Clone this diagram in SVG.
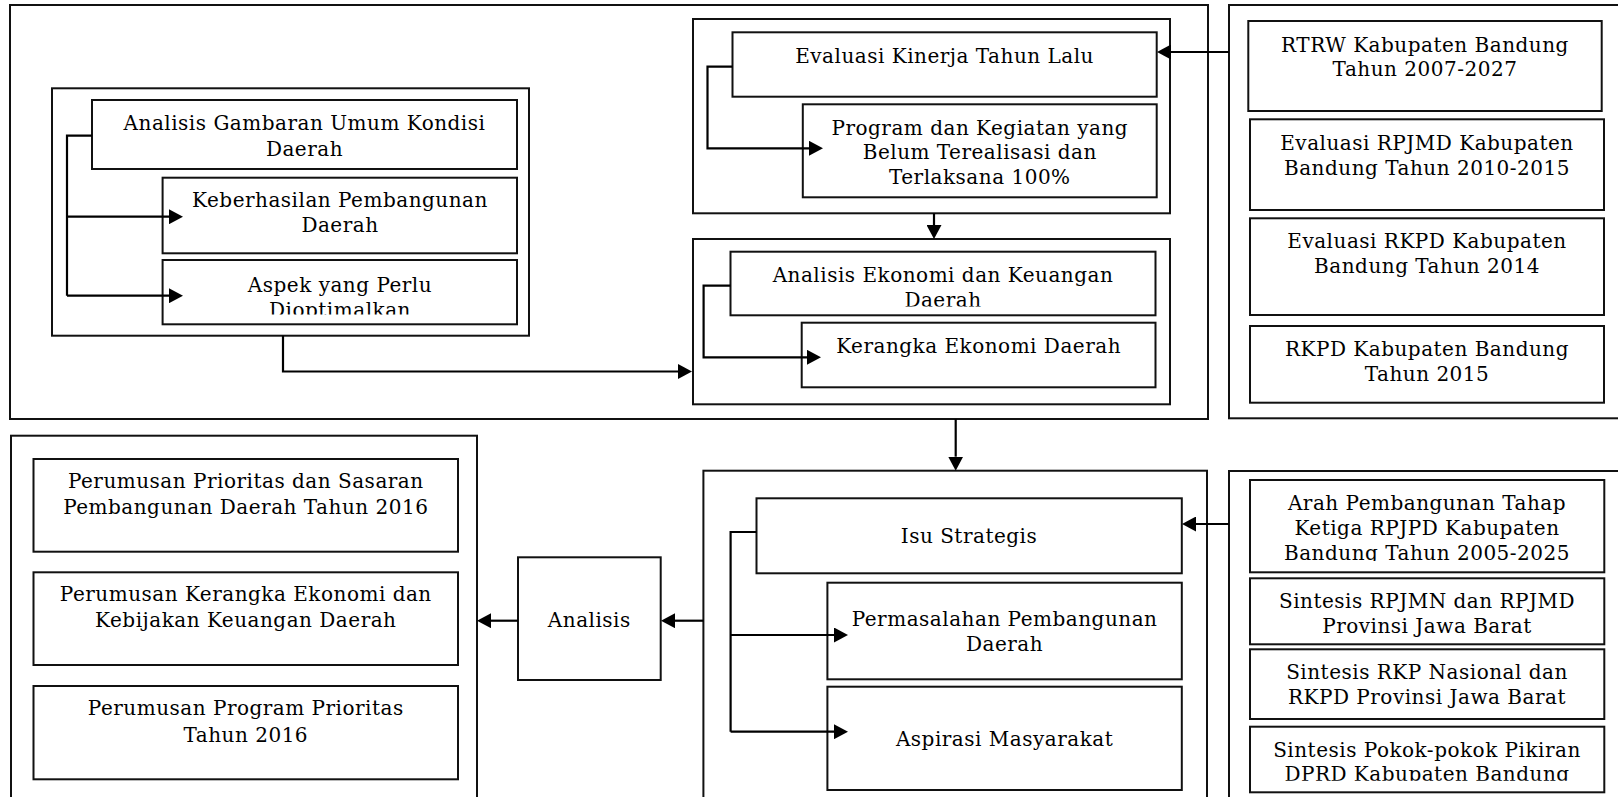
<svg xmlns="http://www.w3.org/2000/svg" width="1618" height="797" viewBox="0 0 1618 797">
<style>
rect.f{fill:#fff;stroke:#111;stroke-width:2}
rect.b{fill:#fff;stroke:#111;stroke-width:2}
.c path{fill:none;stroke:#000;stroke-width:2.2;marker-end:url(#ah)}
.c path.n{marker-end:none}
text{font-family:"DejaVu Serif","Liberation Serif",serif;font-size:20px;fill:#000;text-anchor:middle;letter-spacing:0.5px}
</style>
<defs>
<marker id="ah" markerUnits="userSpaceOnUse" markerWidth="14" markerHeight="15" refX="0" refY="7.5" orient="auto" viewBox="0 0 14 15"><path d="M0,0 L14,7.5 L0,15 z" fill="#000"/></marker>
<clipPath id="clA3"><rect x="162" y="260" width="356" height="54.5"/></clipPath>
<clipPath id="clK1"><rect x="730" y="251" width="426" height="55.5"/></clipPath>
<clipPath id="clB1"><rect x="1250" y="480" width="355" height="81"/></clipPath>
<clipPath id="clB4"><rect x="1250" y="726" width="355" height="54.8"/></clipPath>
</defs>
<rect width="1618" height="797" fill="#fff"/>

<g id="frame-top-left"><rect class="f" x="10" y="5" width="1198" height="414"/></g>
<g id="frame-top-right"><rect class="f" x="1229" y="5" width="400" height="413.3"/></g>
<g id="frame-bottom-left"><rect class="f" x="11" y="435.7" width="466" height="400"/></g>
<g id="frame-bottom-mid"><rect class="f" x="703.4" y="470.7" width="503.6" height="400"/></g>
<g id="frame-bottom-right"><rect class="f" x="1229" y="471" width="400" height="400"/></g>

<g id="frame-gambaran"><rect class="f" x="52" y="88.3" width="477" height="247.4"/></g>
<g id="frame-evaluasi"><rect class="f" x="693" y="19" width="477" height="194.3"/></g>
<g id="frame-ekonomi"><rect class="f" x="693" y="239" width="477" height="165.3"/></g>

<g id="n-gambaran"><rect class="b" x="92" y="100" width="425" height="69"/>
<text x="304.5" y="130">Analisis Gambaran Umum Kondisi</text><text x="304.5" y="155.5">Daerah</text></g>
<g id="n-keberhasilan"><rect class="b" x="162.6" y="177.7" width="354.4" height="75.6"/>
<text x="340" y="207.3">Keberhasilan Pembangunan</text><text x="340" y="232.3">Daerah</text></g>
<g id="n-aspek"><rect class="b" x="162.6" y="260" width="354.4" height="64.3"/>
<g clip-path="url(#clA3)"><text x="340" y="291.7">Aspek yang Perlu</text><text x="340" y="316.7">Dioptimalkan</text></g></g>

<g id="n-evaluasi-kinerja"><rect class="b" x="732.5" y="32.3" width="424.2" height="64.4"/>
<text x="944.6" y="62.7">Evaluasi Kinerja Tahun Lalu</text></g>
<g id="n-program"><rect class="b" x="802.8" y="104.3" width="353.9" height="93"/>
<text x="979.8" y="135">Program dan Kegiatan yang</text><text x="979.8" y="159.3">Belum Terealisasi dan</text><text x="979.8" y="183.5">Terlaksana 100%</text></g>

<g id="n-analisis-ekonomi"><rect class="b" x="730.5" y="251.7" width="425" height="63.6"/>
<g clip-path="url(#clK1)"><text x="943" y="281.7">Analisis Ekonomi dan Keuangan</text><text x="943" y="306.7">Daerah</text></g></g>
<g id="n-kerangka"><rect class="b" x="801.7" y="322.7" width="353.8" height="64.6"/>
<text x="978.6" y="353.3">Kerangka Ekonomi Daerah</text></g>

<g id="n-rtrw"><rect class="b" x="1248.3" y="21" width="353.4" height="90"/>
<text x="1425" y="51.7">RTRW Kabupaten Bandung</text><text x="1425" y="76.3">Tahun 2007-2027</text></g>
<g id="n-rpjmd"><rect class="b" x="1250" y="119.3" width="354" height="90.7"/>
<text x="1427" y="150">Evaluasi RPJMD Kabupaten</text><text x="1427" y="175">Bandung Tahun 2010-2015</text></g>
<g id="n-rkpd-eval"><rect class="b" x="1250" y="218.3" width="354" height="96.7"/>
<text x="1427" y="248.3">Evaluasi RKPD Kabupaten</text><text x="1427" y="273.3">Bandung Tahun 2014</text></g>
<g id="n-rkpd-2015"><rect class="b" x="1250" y="326" width="354" height="76.7"/>
<text x="1427" y="356">RKPD Kabupaten Bandung</text><text x="1427" y="381">Tahun 2015</text></g>

<g id="n-prioritas"><rect class="b" x="33.5" y="459" width="424.5" height="92.7"/>
<text x="245.8" y="488.3">Perumusan Prioritas dan Sasaran</text><text x="245.8" y="514">Pembangunan Daerah Tahun 2016</text></g>
<g id="n-kerangka-kebijakan"><rect class="b" x="33.5" y="572.3" width="424.5" height="92.7"/>
<text x="245.8" y="601">Perumusan Kerangka Ekonomi dan</text><text x="245.8" y="626.7">Kebijakan Keuangan Daerah</text></g>
<g id="n-program-prioritas"><rect class="b" x="33.5" y="686" width="424.5" height="93.3"/>
<text x="245.8" y="715">Perumusan Program Prioritas</text><text x="245.8" y="741.7">Tahun 2016</text></g>

<g id="n-analisis"><rect class="b" x="518" y="557.3" width="142.7" height="122.7"/>
<text x="589.3" y="626.7">Analisis</text></g>

<g id="n-isu"><rect class="b" x="756.5" y="498.3" width="425.3" height="75"/>
<text x="969" y="543.3">Isu Strategis</text></g>
<g id="n-permasalahan"><rect class="b" x="827.4" y="582.7" width="354.4" height="96.6"/>
<text x="1004.6" y="626">Permasalahan Pembangunan</text><text x="1004.6" y="650.7">Daerah</text></g>
<g id="n-aspirasi"><rect class="b" x="827.4" y="686.7" width="354.4" height="103.3"/>
<text x="1004.6" y="745.7">Aspirasi Masyarakat</text></g>

<g id="n-arah"><rect class="b" x="1250" y="480" width="354.3" height="92.3"/>
<g clip-path="url(#clB1)"><text x="1427" y="510">Arah Pembangunan Tahap</text><text x="1427" y="535">Ketiga RPJPD Kabupaten</text><text x="1427" y="560">Bandung Tahun 2005-2025</text></g></g>
<g id="n-sintesis-rpjmn"><rect class="b" x="1250" y="578.3" width="354.3" height="66"/>
<text x="1427" y="608.3">Sintesis RPJMN dan RPJMD</text><text x="1427" y="632.7">Provinsi Jawa Barat</text></g>
<g id="n-sintesis-rkp"><rect class="b" x="1250" y="649.3" width="354.3" height="69.7"/>
<text x="1427" y="679">Sintesis RKP Nasional dan</text><text x="1427" y="704">RKPD Provinsi Jawa Barat</text></g>
<g id="n-sintesis-pokir"><rect class="b" x="1250" y="726.7" width="354.3" height="65.6"/>
<g clip-path="url(#clB4)"><text x="1427" y="756.7">Sintesis Pokok-pokok Pikiran</text><text x="1427" y="781.3">DPRD Kabupaten Bandung</text></g></g>

<g id="connectors" class="c">
<path class="n" d="M92,135.7 H67 V295.7"/>
<path d="M67,216.7 H169"/>
<path d="M67,295.7 H169"/>
<path d="M732.5,66.7 H707.5 V148.3 H809"/>
<path d="M730.5,285.7 H703.6 V357.3 H807"/>
<path d="M934,213.3 V225"/>
<path d="M283,335.7 V371.5 H678"/>
<path d="M1229,52 H1171"/>
<path d="M955.7,419 V456.7"/>
<path d="M1229,524 H1196"/>
<path class="n" d="M756.5,532 H730.6 V731.7"/>
<path d="M730.6,635 H834"/>
<path d="M730.6,731.7 H834"/>
<path d="M703.4,620.7 H675"/>
<path d="M518,620.7 H491"/>
</g>
</svg>
